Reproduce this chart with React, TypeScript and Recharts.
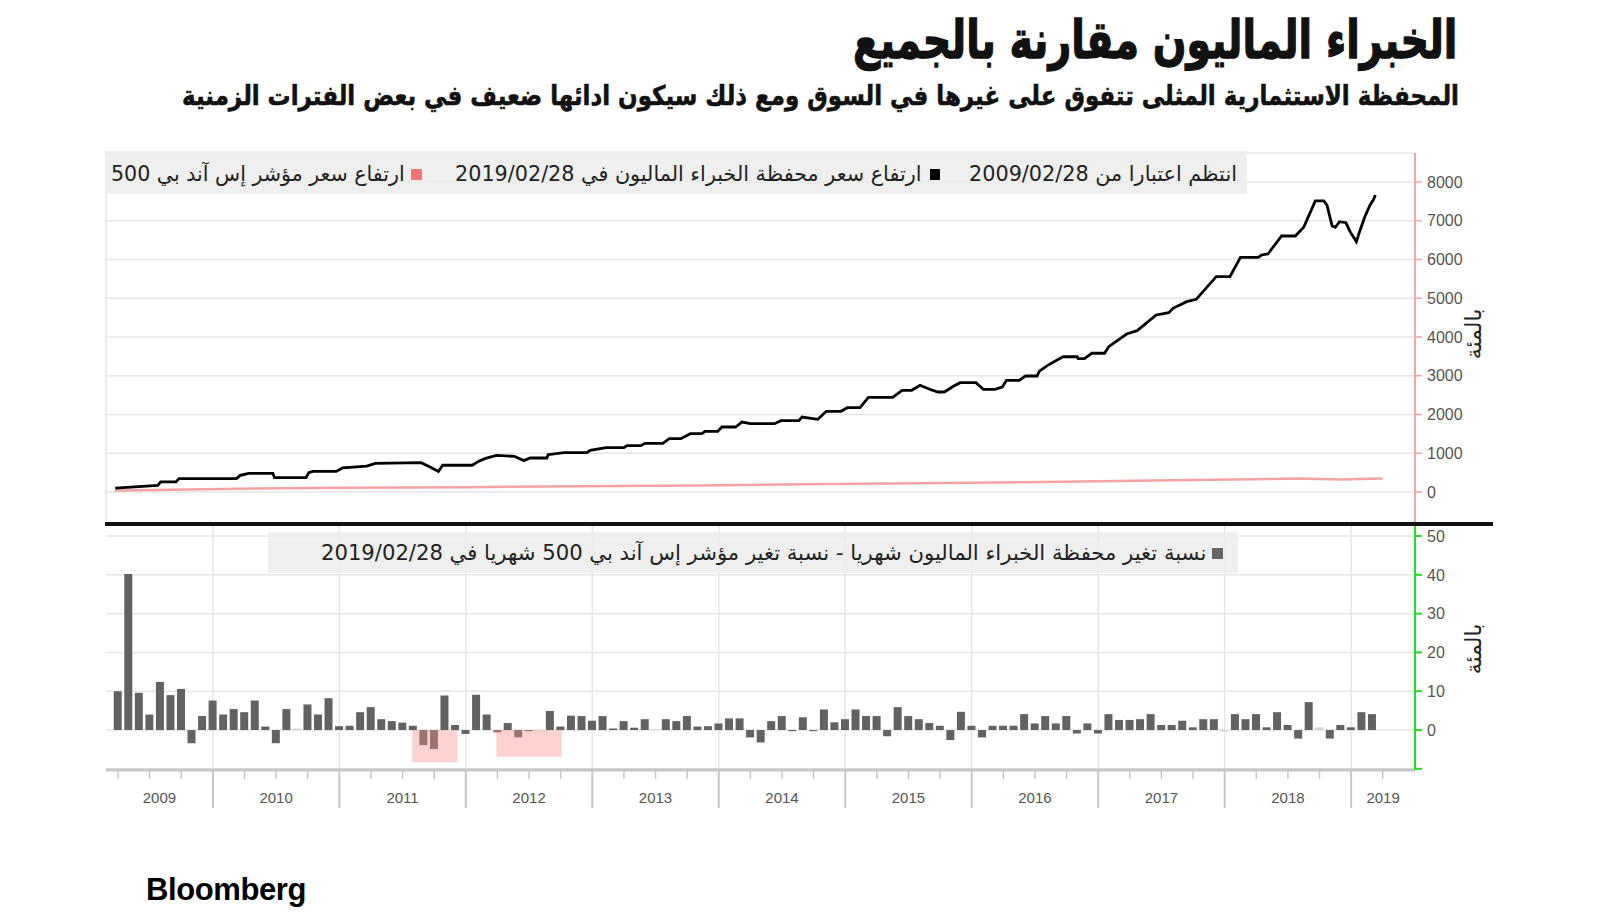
import React, { useLayoutEffect, useRef, useState } from 'react';
import { ComposedChart, Line, Bar, Cell, XAxis, YAxis, CartesianGrid, ReferenceArea } from 'recharts';

// Monthly % change of the portfolio, March 2009 .. February 2019 (index 0 = Mar 2009)
const monthlyChange = [
  10.0, 40.2, 9.6, 4.0, 12.4, 9.0, 10.6, -3.4, 3.6, 7.6,
  4.0, 5.4, 4.6, 7.6, 0.9, -3.4, 5.4, 0.4, 6.6, 4.0,
  8.2, 1.0, 1.1, 4.6, 5.9, 2.8, 2.3, 1.9, 1.1, -3.9,
  -4.9, 8.9, 1.3, -1.0, 9.1, 4.0, -0.6, 1.8, -1.9, -0.3,
  -0.3, 4.9, 0.9, 3.7, 3.6, 2.4, 3.6, 0.4, 2.3, 0.6,
  2.8, 0.2, 2.8, 2.3, 3.6, 0.9, 1.0, 1.7, 3.0, 3.0,
  -1.9, -3.2, 2.3, 3.6, -0.3, 3.3, -0.3, 5.3, 2.0, 2.8,
  5.3, 3.6, 3.6, -1.6, 5.9, 3.6, 2.8, 1.8, 1.1, -2.6,
  4.7, 1.1, -1.9, 1.1, 1.1, 1.1, 4.1, 1.7, 3.6, 1.7,
  3.6, -0.9, 1.7, -0.9, 4.1, 2.6, 2.6, 2.8, 4.1, 1.3,
  1.3, 2.4, 0.7, 2.8, 2.8, -0.4, 4.1, 2.8, 4.1, 0.7,
  4.6, 1.3, -2.2, 7.2, 0.7, -2.2, 1.3, 0.7, 4.6, 4.1,
];
const paleMonths = [17, 40, 51, 105, 114];

// Cumulative gain (%) of the portfolio (x in months from Mar 2009)
const portfolioMonth = [
  -0.26, 3.77, 4.05, 5.5, 5.78, 11.23, 11.6, 12.4, 14.7, 14.85, 17.84, 18.1, 18.5, 20.7, 21.3, 23.6, 24.4,
  28.75, 29.6, 30.4, 30.8, 33.6, 34.2, 34.8, 35.9, 37.6, 38.5, 39.1, 40.7, 40.8, 42.3, 44.5, 44.8, 46.3,
  48.0, 48.3, 49.6, 50.0, 51.7, 52.3, 53.4, 54.3, 55.4, 55.7, 56.9, 57.3, 58.6, 59.2, 60.0, 62.3, 62.9,
  64.6, 64.9, 66.4, 67.2, 68.6, 69.2, 70.4, 71.2, 73.5, 74.4, 75.3, 76.1, 77.0, 77.8, 78.4, 79.3, 79.9,
  81.4, 82.1, 83.2, 83.9, 84.3, 85.5, 86.1, 87.2, 87.4, 88.2, 89.4, 89.7, 91.0, 91.1, 91.7, 92.4, 93.6,
  94.0, 95.7, 96.7, 98.5, 99.7, 100.1, 101.4, 102.3, 104.2, 105.5, 106.5, 108.2, 108.5, 109.1, 110.4,
  111.7, 112.5, 113.6, 114.4, 114.7, 115.2, 115.5, 115.9, 116.5, 116.9, 117.5, 117.8, 118.3, 118.8,
  119.1, 119.3,
];
const portfolioGain = [
  100, 170, 260, 260, 345, 345, 430, 480, 480, 370, 370, 500, 530, 530, 620, 670, 740,
  757, 645, 530, 690, 690, 790, 860, 946, 920, 810, 877, 877, 963, 1015, 1015, 1075, 1144,
  1144, 1196, 1196, 1256, 1256, 1376, 1376, 1505, 1505, 1566, 1566, 1677, 1677, 1806, 1763, 1763, 1840,
  1840, 1935, 1875, 2082, 2082, 2176, 2176, 2443, 2443, 2624, 2624, 2753, 2650, 2580, 2580, 2735, 2821,
  2821, 2650, 2650, 2710, 2882, 2882, 2993, 2993, 3114, 3269, 3450, 3490, 3490, 3440, 3440, 3580, 3580,
  3750, 4077, 4163, 4568, 4628, 4740, 4912, 4972, 5557, 5557, 6056, 6056, 6116, 6142, 6606,
  6606, 6830, 7510, 7510, 7406, 6864, 6830, 6976, 6950, 6718, 6460, 6718, 7105, 7406,
  7535, 7665,
];

// Cumulative gain (%) of the S&P 500
const spxMonth = [-0.3, 10, 21, 33, 44, 55, 65, 76, 88, 100, 112, 116, 120];
const spxGain = [40, 80, 110, 125, 145, 170, 198, 225, 258, 300, 345, 320, 350];

const years = ['2009', '2010', '2011', '2012', '2013', '2014', '2015', '2016', '2017', '2018', '2019'];
const topTicks = [0, 1000, 2000, 3000, 4000, 5000, 6000, 7000, 8000];
const bottomTicks = [-10, 0, 10, 20, 30, 40, 50];

// shaded weak periods (month index range, depth %)
const weakStart = [27.9, 35.9];
const weakEnd = [32.2, 42.1];
const weakDepth = [-8.3, -6.9];

const X_MIN = -1.14;
const X_MAX = 123.06;
const yearBoundaries = years.slice(1).map((_, k) => 9 + 12 * k);
const quarterTicks = Array.from({ length: 41 }, (_, k) => 3 * k);
const bounds = [X_MIN, ...yearBoundaries, X_MAX];
const yearMids = years.map((_, k) => (bounds[k] + bounds[k + 1]) / 2);

const portfolioData = portfolioMonth.map((m, i) => ({ m, v: portfolioGain[i] }));
const spxData = spxMonth.map((m, i) => ({ m, v: spxGain[i] }));
const barData = monthlyChange.map((v, i) => ({ m: i, v }));

const inWeak = (m: number) => weakStart.some((s, k) => m >= s && m <= weakEnd[k]);
const barColor = (d: { m: number; v: number }) => {
  if (paleMonths.includes(d.m)) return '#d4d4d4';
  if (d.v < 0 && inWeak(d.m)) return '#9e7373';
  return '#626262';
};

const AR_FONT = '"DejaVu Sans", sans-serif';
const NUM_FONT = '"Liberation Sans", Arial, sans-serif';

function FitText(props: {
  text: string; left: number; right: number; cy: number; size: number; weight?: number | string; color?: string; stroke?: number;
}) {
  const { text, left, right, cy, size, weight = 400, color = '#111', stroke = 0 } = props;
  const ref = useRef<HTMLSpanElement>(null);
  const [scale, setScale] = useState(1);
  useLayoutEffect(() => {
    if (ref.current) {
      const w = ref.current.offsetWidth;
      if (w > 0) setScale((right - left) / w);
    }
  }, [text, left, right]);
  return (
    <span
      ref={ref}
      dir="rtl"
      style={{
        position: 'absolute',
        right: 1600 - right,
        top: cy,
        transform: `translateY(-50%) scaleX(${scale})`,
        transformOrigin: 'right center',
        whiteSpace: 'nowrap',
        fontSize: size,
        fontWeight: weight as any,
        color,
        fontFamily: AR_FONT,
        lineHeight: 1,
        WebkitTextStroke: stroke ? `${stroke}px ${color}` : undefined,
      }}
    >
      {text}
    </span>
  );
}

const QuarterTick = (props: any) => {
  const { x, y, payload } = props;
  const major = yearBoundaries.includes(payload.value);
  return (
    <line x1={x} x2={x} y1={y} y2={y + (major ? 38 : 9)} stroke="#c6c6c6" strokeWidth={major ? 2 : 1.5} />
  );
};

const YearTick = (props: any) => {
  const { x, y, payload } = props;
  const k = yearMids.findIndex((v) => Math.abs(v - payload.value) < 1e-6);
  return (
    <text x={x} y={y} dy="0.71em" textAnchor="middle" fill="#555" fontSize={15} fontFamily={NUM_FONT}>
      {k >= 0 ? years[k] : ''}
    </text>
  );
};

export default function App() {
  return (
    <div style={{ position: 'absolute', left: 0, top: 0, width: 1600, height: 923, background: '#fff', overflow: 'hidden' }}>
      {/* Title and subtitle */}
      <FitText text="الخبراء  الماليون مقارنة بالجميع" left={853} right={1457} cy={40} size={52} weight={700} color="#111" stroke={1.4} />
      <FitText
        text="المحفظة الاستثمارية المثلى تتفوق على غيرها في السوق ومع ذلك  سيكون ادائها ضعيف في بعض الفترات الزمنية"
        left={182}
        right={1459}
        cy={95}
        size={27}
        weight={700}
        color="#111"
        stroke={0.6}
      />

      {/* Top chart */}
      <div style={{ position: 'absolute', left: 0, top: 0 }}>
        <ComposedChart width={1600} height={530} margin={{ top: 153, right: 105, bottom: 6, left: 106 }}>
          <CartesianGrid stroke="#e6e6e6" strokeWidth={1.5} />
          <XAxis
            dataKey="m"
            type="number"
            domain={[X_MIN, X_MAX]}
            ticks={yearBoundaries}
            allowDataOverflow
            tick={false}
            axisLine={false}
            tickLine={false}
            height={0}
          />
          <YAxis
            orientation="right"
            width={80}
            type="number"
            domain={[-826, 8748]}
            ticks={topTicks}
            allowDataOverflow
            axisLine={{ stroke: '#f5a5a5', strokeWidth: 2 }}
            tickLine={{ stroke: '#f5a5a5', strokeWidth: 1.5 }}
            tickSize={7}
            tickMargin={5}
            tick={{ fill: '#555', fontSize: 16, fontFamily: NUM_FONT }}
          />
          <Line data={spxData} dataKey="v" type="linear" stroke="#f4a3a3" strokeWidth={2.5} dot={false} isAnimationActive={false} />
          <Line data={portfolioData} dataKey="v" type="linear" stroke="#000" strokeWidth={2.8} dot={false} isAnimationActive={false} />
        </ComposedChart>
      </div>

      {/* Bottom chart */}
      <div style={{ position: 'absolute', left: 0, top: 500 }}>
        <ComposedChart width={1600} height={340} data={barData} margin={{ top: 24, right: 105, bottom: 18, left: 106 }}>
          <CartesianGrid stroke="#e6e6e6" strokeWidth={1.5} verticalValues={yearBoundaries} />
          <XAxis
            dataKey="m"
            type="number"
            domain={[X_MIN, X_MAX]}
            ticks={quarterTicks}
            interval={0}
            allowDataOverflow
            height={12}
            tickSize={0}
            tickMargin={0}
            axisLine={{ stroke: '#c6c6c6', strokeWidth: 3 }}
            tickLine={false}
            tick={<QuarterTick />}
          />
          <XAxis
            xAxisId="lab"
            dataKey="m"
            type="number"
            domain={[X_MIN, X_MAX]}
            ticks={yearMids}
            interval={0}
            allowDataOverflow
            height={40}
            tickSize={0}
            tickMargin={10}
            axisLine={false}
            tickLine={false}
            tick={<YearTick />}
          />
          <YAxis
            orientation="right"
            width={80}
            type="number"
            domain={[-10.3, 53.1]}
            ticks={bottomTicks}
            allowDataOverflow
            axisLine={{ stroke: '#22dd22', strokeWidth: 2 }}
            tickLine={{ stroke: '#22dd22', strokeWidth: 2 }}
            tickSize={7}
            tickMargin={5}
            tickFormatter={(v: number) => (v < 0 ? '' : String(v))}
            tick={{ fill: '#555', fontSize: 16, fontFamily: NUM_FONT }}
          />
          {weakStart.map((s, k) => (
            <ReferenceArea key={k} x1={s} x2={weakEnd[k]} y1={0} y2={weakDepth[k]} fill="#ff8a8a" fillOpacity={0.38} stroke="none" />
          ))}
          <Bar dataKey="v" barSize={8} isAnimationActive={false}>
            {barData.map((d) => (
              <Cell key={d.m} fill={barColor(d)} />
            ))}
          </Bar>
        </ComposedChart>
      </div>

      {/* Separator */}
      <div style={{ position: 'absolute', left: 105, top: 522, width: 1388, height: 4, background: '#111' }} />

      {/* Top legend */}
      <div style={{ position: 'absolute', left: 105, top: 151, width: 1142, height: 43, background: 'rgba(236,236,236,0.85)' }} />
      <FitText text="انتظم اعتبارا من 2009/02/28" left={969} right={1237} cy={174} size={21} color="#222" />
      <div style={{ position: 'absolute', left: 930, top: 169, width: 10, height: 11, background: '#000' }} />
      <FitText text="ارتفاع سعر محفظة الخبراء الماليون في 2019/02/28" left={455} right={921} cy={174} size={21} color="#222" />
      <div style={{ position: 'absolute', left: 411, top: 169, width: 11, height: 11, background: '#f37474' }} />
      <FitText text="ارتفاع سعر مؤشر إس آند بي 500" left={111} right={405} cy={174} size={21} color="#222" />

      {/* Bottom legend */}
      <div style={{ position: 'absolute', left: 268, top: 532, width: 970, height: 41, background: 'rgba(236,236,236,0.85)' }} />
      <div style={{ position: 'absolute', left: 1212, top: 548, width: 11, height: 11, background: '#666' }} />
      <FitText
        text="نسبة تغير محفظة الخبراء الماليون شهريا  -  نسبة تغير مؤشر إس آند بي 500  شهريا في 2019/02/28"
        left={321}
        right={1206}
        cy={553}
        size={21}
        color="#222"
      />

      {/* Axis unit labels */}
      {[334, 649].map((cy) => (
        <div
          key={cy}
          style={{
            position: 'absolute',
            left: 1474,
            top: cy,
            transform: 'translate(-50%, -50%) rotate(-90deg)',
            fontFamily: AR_FONT,
            fontSize: 22,
            color: '#222',
            whiteSpace: 'nowrap',
            lineHeight: 1,
          }}
        >
          بالمئة
        </div>
      ))}

      {/* Source */}
      <div
        style={{
          position: 'absolute',
          left: 146,
          top: 874,
          fontFamily: NUM_FONT,
          fontWeight: 700,
          fontSize: 31,
          lineHeight: 1,
          color: '#000',
          letterSpacing: -0.4,
        }}
      >
        Bloomberg
      </div>
    </div>
  );
}
